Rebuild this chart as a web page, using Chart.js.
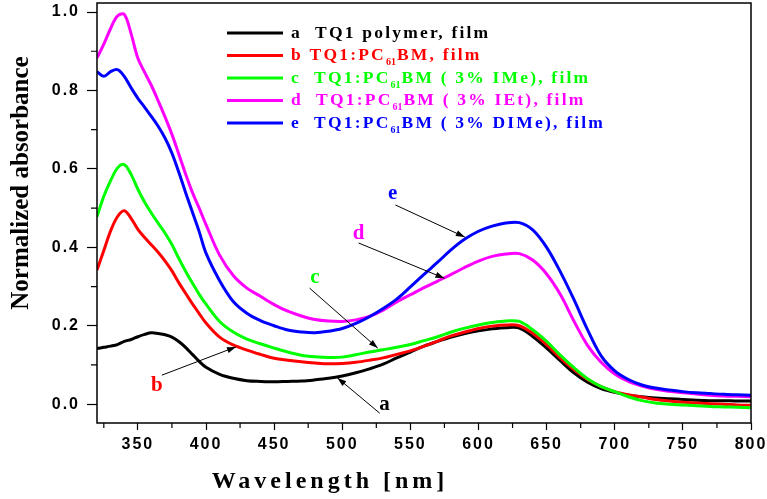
<!DOCTYPE html>
<html lang="en">
<head>
<meta charset="UTF-8">
<title>Normalized absorbance of TQ1 films</title>
<style>
  html, body { margin: 0; padding: 0; background: #fff; }
  #chart { display: block; }
</style>
</head>
<body>
<canvas id="chart" width="767" height="499"></canvas>

<script src="https://cdn.jsdelivr.net/npm/chart.js@4.4.1/dist/chart.umd.min.js"></script>
<script>
// wavelength grid (nm)
const wavelengths = [320, 325, 330, 335, 340, 345, 350, 355, 360, 365, 370, 375, 380, 385, 390, 395,
  400, 410, 420, 430, 440, 450, 460, 470, 480, 490, 500, 510, 520, 530, 540, 550, 560, 570, 580, 590,
  600, 610, 620, 630, 640, 650, 660, 670, 680, 690, 700, 710, 720, 730, 740, 750, 760, 770, 780, 790, 800];

// a - TQ1 polymer, film
const polymerFilm = [0.142, 0.145, 0.148, 0.152, 0.160, 0.165, 0.172, 0.178, 0.182, 0.180, 0.177, 0.171, 0.160, 0.145, 0.127, 0.109,
  0.094, 0.076, 0.066, 0.060, 0.058, 0.057, 0.058, 0.059, 0.062, 0.066, 0.072, 0.080, 0.090, 0.102, 0.118, 0.133, 0.148, 0.160, 0.171, 0.180,
  0.187, 0.192, 0.195, 0.194, 0.172, 0.143, 0.111, 0.080, 0.056, 0.040, 0.030, 0.023, 0.019, 0.016, 0.014, 0.012, 0.010, 0.009, 0.009, 0.008, 0.008];

// b - TQ1:PC61BM, film
const blendFilm = [0.342, 0.392, 0.442, 0.478, 0.493, 0.474, 0.446, 0.425, 0.406, 0.387, 0.365, 0.340, 0.310, 0.283, 0.256, 0.231,
  0.207, 0.171, 0.151, 0.138, 0.127, 0.117, 0.112, 0.108, 0.105, 0.103, 0.104, 0.107, 0.112, 0.118, 0.127, 0.136, 0.148, 0.161, 0.174, 0.184,
  0.193, 0.199, 0.202, 0.200, 0.180, 0.152, 0.118, 0.088, 0.063, 0.045, 0.032, 0.024, 0.018, 0.012, 0.008, 0.005, 0.003, 0.001, 0.000, -0.002, -0.003];

// c - TQ1:PC61BM (3% IMe), film
const imeFilm = [0.478, 0.530, 0.570, 0.602, 0.611, 0.586, 0.548, 0.515, 0.487, 0.461, 0.436, 0.407, 0.372, 0.339, 0.309, 0.280,
  0.255, 0.211, 0.184, 0.166, 0.154, 0.143, 0.133, 0.125, 0.121, 0.119, 0.120, 0.126, 0.133, 0.139, 0.145, 0.152, 0.162, 0.172, 0.184, 0.194,
  0.202, 0.208, 0.212, 0.211, 0.189, 0.160, 0.125, 0.093, 0.065, 0.045, 0.032, 0.019, 0.009, 0.003, 0.000, -0.002, -0.004, -0.006, -0.007, -0.008, -0.009];

// d - TQ1:PC61BM (3% IEt), film
const ietFilm = [0.883, 0.918, 0.958, 0.990, 0.994, 0.945, 0.882, 0.846, 0.812, 0.773, 0.732, 0.688, 0.638, 0.587, 0.540, 0.500,
  0.458, 0.380, 0.328, 0.296, 0.275, 0.254, 0.237, 0.225, 0.216, 0.212, 0.211, 0.215, 0.224, 0.240, 0.261, 0.279, 0.297, 0.314, 0.331, 0.349,
  0.365, 0.377, 0.383, 0.384, 0.367, 0.332, 0.280, 0.212, 0.150, 0.107, 0.077, 0.058, 0.046, 0.038, 0.033, 0.029, 0.026, 0.023, 0.021, 0.020, 0.019];

// e - TQ1:PC61BM (3% DIMe), film
const dimeFilm = [0.848, 0.836, 0.848, 0.853, 0.836, 0.807, 0.780, 0.757, 0.733, 0.708, 0.678, 0.640, 0.592, 0.540, 0.490, 0.440,
  0.385, 0.315, 0.262, 0.232, 0.213, 0.200, 0.189, 0.184, 0.182, 0.186, 0.193, 0.206, 0.223, 0.244, 0.268, 0.299, 0.331, 0.362, 0.394, 0.421,
  0.441, 0.454, 0.462, 0.463, 0.444, 0.400, 0.338, 0.267, 0.190, 0.123, 0.085, 0.063, 0.049, 0.041, 0.036, 0.032, 0.029, 0.027, 0.025, 0.024, 0.023];

const seriesColors = ['#000000', '#ff0000', '#00ff00', '#ff00ff', '#0000ff'];
const seriesValues = [polymerFilm, blendFilm, imeFilm, ietFilm, dimeFilm];

// legend rows: [before subscript, subscript, after subscript]
const legendRows = [
  ['a  TQ1 polymer, film', '', ''],
  ['b TQ1:PC', '61', 'BM, film'],
  ['c  TQ1:PC', '61', 'BM ( 3% IMe), film'],
  ['d  TQ1:PC', '61', 'BM ( 3% IEt), film'],
  ['e  TQ1:PC', '61', 'BM ( 3% DIMe), film']
];

// curve callouts in data units: label centre, arrow tail, arrow tip
const callouts = [
  { text: 'e', color: '#0000ff', at: [537, 0.538], from: [539, 0.508], to: [590, 0.426] },
  { text: 'd', color: '#ff00ff', at: [512, 0.436], from: [512, 0.411], to: [575, 0.321] },
  { text: 'c', color: '#00ff00', at: [480, 0.324], from: [476, 0.296], to: [526, 0.143] },
  { text: 'b', color: '#ff0000', at: [364, 0.048], from: [367.6, 0.074], to: [422, 0.146] },
  { text: 'a', color: '#000000', at: [531, 0.000], from: [527.5, -0.023], to: [496.5, 0.067] }
];

const xMinorTicks = [325, 375, 425, 475, 525, 575, 625, 675, 725, 775];
const yMinorTicks = [0.1, 0.3, 0.5, 0.7, 0.9];

const datasets = seriesValues.map((vals, i) => ({
  label: legendRows[i].join(''),
  data: wavelengths.map((w, k) => ({ x: w, y: vals[k] })),
  borderColor: seriesColors[i],
  borderWidth: 3,
  pointRadius: 0,
  tension: 0.35,
  order: 5 - i
}));

const tickFont = { family: '"Liberation Sans", Arial, sans-serif', size: 16, weight: 'bold' };
const serif = '"Liberation Serif", "Times New Roman", serif';

function arrow(ctx, x1, y1, x2, y2) {
  ctx.beginPath();
  ctx.moveTo(x1, y1);
  ctx.lineTo(x2, y2);
  ctx.stroke();
  const ang = Math.atan2(y2 - y1, x2 - x1);
  const len = 9, half = 3;
  ctx.beginPath();
  ctx.moveTo(x2, y2);
  ctx.lineTo(x2 - len * Math.cos(ang) + half * Math.sin(ang), y2 - len * Math.sin(ang) - half * Math.cos(ang));
  ctx.lineTo(x2 - len * Math.cos(ang) - half * Math.sin(ang), y2 - len * Math.sin(ang) + half * Math.cos(ang));
  ctx.closePath();
  ctx.fill();
}

const decorations = {
  id: 'decorations',
  beforeDraw(chart) {
    chart.ctx.letterSpacing = '2px';
  },
  afterDraw(chart) {
    const { ctx, chartArea: a, scales: { x, y } } = chart;
    ctx.save();

    // plot frame
    ctx.strokeStyle = '#000';
    ctx.lineWidth = 1.5;
    ctx.strokeRect(a.left, a.top, a.right - a.left, a.bottom - a.top);

    // minor ticks
    ctx.lineWidth = 1.2;
    ctx.beginPath();
    xMinorTicks.forEach(v => {
      const px = x.getPixelForValue(v);
      ctx.moveTo(px, a.bottom);
      ctx.lineTo(px, a.bottom + 5);
    });
    yMinorTicks.forEach(v => {
      const py = y.getPixelForValue(v);
      ctx.moveTo(a.left, py);
      ctx.lineTo(a.left - 6, py);
    });
    ctx.stroke();

    // legend
    legendRows.forEach((parts, i) => {
      const ly = 33 + i * 22.5;
      ctx.strokeStyle = seriesColors[i];
      ctx.lineWidth = 3;
      ctx.beginPath();
      ctx.moveTo(227, ly);
      ctx.lineTo(283, ly);
      ctx.stroke();
      ctx.fillStyle = seriesColors[i];
      ctx.textBaseline = 'middle';
      ctx.textAlign = 'left';
      let lx = 291;
      parts.forEach((p, j) => {
        if (!p) return;
        const sub = j === 1;
        ctx.letterSpacing = sub ? '0px' : '2.2px';
        ctx.font = sub ? `bold 10px ${serif}` : `bold 17.5px ${serif}`;
        ctx.fillText(p, lx, ly + (sub ? 7 : 0));
        lx += ctx.measureText(p).width + (sub ? 1 : 0);
      });
    });

    // curve callouts
    ctx.letterSpacing = '0px';
    ctx.strokeStyle = '#000';
    ctx.fillStyle = '#000';
    ctx.lineWidth = 1;
    callouts.forEach(c => {
      arrow(ctx, x.getPixelForValue(c.from[0]), y.getPixelForValue(c.from[1]),
        x.getPixelForValue(c.to[0]), y.getPixelForValue(c.to[1]));
    });
    ctx.font = `bold 21px ${serif}`;
    ctx.textAlign = 'center';
    ctx.textBaseline = 'middle';
    callouts.forEach(c => {
      ctx.fillStyle = c.color;
      ctx.fillText(c.text, x.getPixelForValue(c.at[0]), y.getPixelForValue(c.at[1]));
    });

    // axis titles
    ctx.fillStyle = '#000';
    ctx.font = `bold 25px ${serif}`;
    ctx.save();
    ctx.translate(22, 183);
    ctx.rotate(-Math.PI / 2);
    ctx.fillText('Normalized absorbance', 0, 0);
    ctx.restore();

    ctx.letterSpacing = '4px';
    ctx.font = `bold 24px ${serif}`;
    ctx.fillText('Wavelength [nm]', 330, 482);

    ctx.restore();
  }
};

new Chart(document.getElementById('chart'), {
  type: 'line',
  data: { datasets },
  options: {
    responsive: false,
    animation: false,
    events: [],
    layout: { padding: { left: 0, right: 16, top: 3, bottom: 0 } },
    plugins: { legend: { display: false }, tooltip: { enabled: false } },
    scales: {
      x: {
        type: 'linear',
        min: 320,
        max: 800,
        afterFit(s) { s.height = 76; s.paddingLeft = 0; s.paddingRight = 0; },
        ticks: { stepSize: 50, includeBounds: false, maxRotation: 0, autoSkip: false, color: '#000', font: tickFont, padding: 5 },
        grid: { drawOnChartArea: false, tickLength: 7, tickColor: '#000', tickWidth: 1.2 },
        border: { display: false }
      },
      y: {
        min: -0.048,
        max: 1.023,
        afterFit(s) { s.width = 97; s.paddingTop = 0; s.paddingBottom = 0; },
        ticks: { stepSize: 0.2, includeBounds: false, color: '#000', font: tickFont, padding: 7,
          callback: v => v.toFixed(1) },
        grid: { drawOnChartArea: false, tickLength: 10, tickColor: '#000', tickWidth: 1.2 },
        border: { display: false }
      }
    }
  },
  plugins: [decorations]
});
</script>
</body>
</html>
